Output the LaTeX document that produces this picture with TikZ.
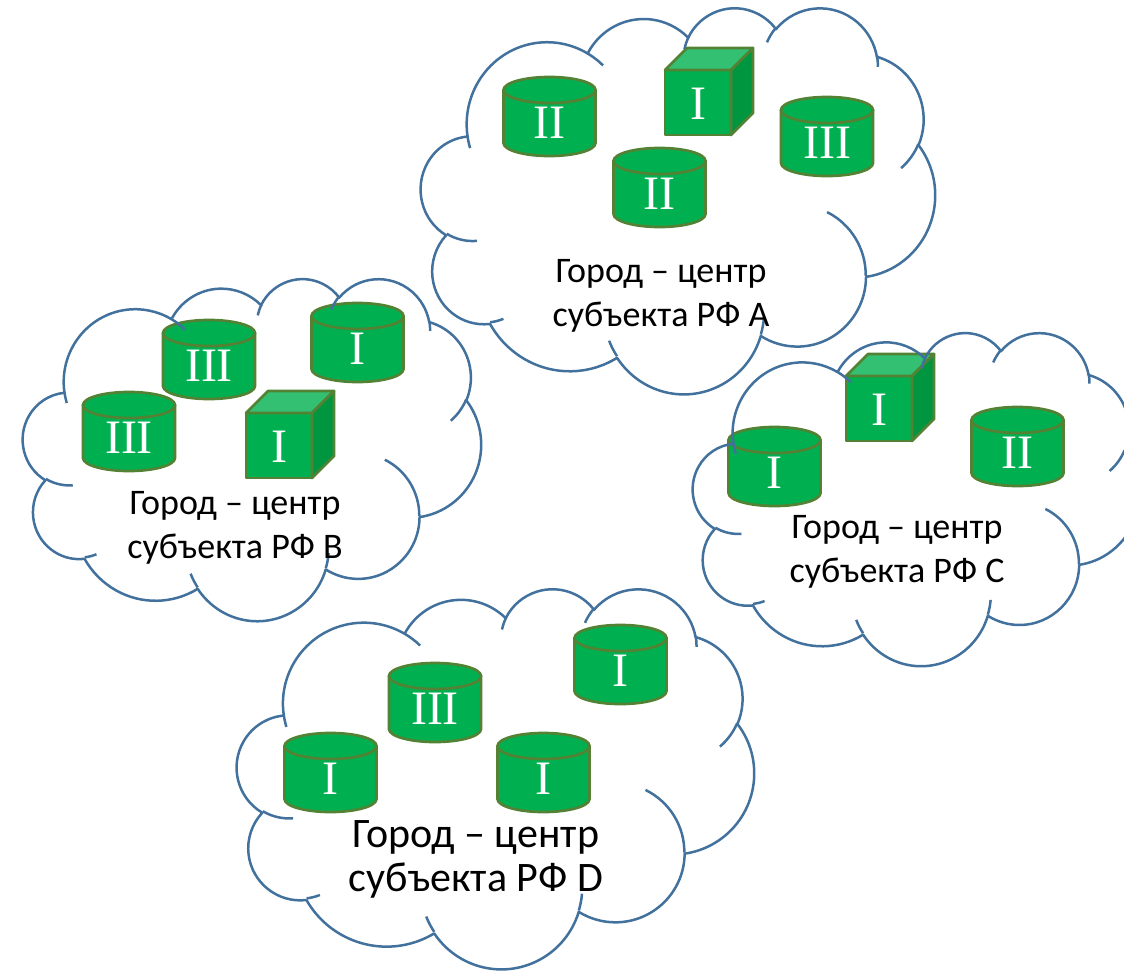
\documentclass[tikz,border=0pt]{standalone}
\usepackage{fontspec}
\setmainfont{Carlito}
\newfontfamily\numfont{Liberation Serif}
\usetikzlibrary{positioning}
\definecolor{cloudblue}{RGB}{65,113,156}
\definecolor{cangreen}{RGB}{0,176,80}
\definecolor{canedge}{RGB}{84,130,53}
\definecolor{cubetop}{RGB}{51,192,115}
\definecolor{cubeside}{RGB}{0,150,64}
\tikzset{cloudline/.style = {draw=cloudblue, line width=1.25pt, line join=round}}
\tikzset{canface/.style = {fill=cangreen, draw=canedge, line width=1.35pt, line join=round}}
\tikzset{numeral/.style = {font=\numfont\fontsize{24}{24}\selectfont, text=white, inner sep=0}}
\tikzset{city/.style = {font=\fontsize{18}{21.7}\selectfont, align=center, anchor=base}}
\tikzset{bigcity/.style = {city, font=\fontsize{21}{22}\selectfont}}

% cloud outline in a 43.2 x 43.2 box, y pointing down
\def\cloudpath{(3.900,14.370)}
\foreach \rw/\rh/\sa/\da in {6.753/9.190/-190.4875/123.7805, 5.333/7.267/-144.1024/89.9452,
    4.365/5.945/-145.8079/99.7230, 4.857/6.595/-130.9861/117.2417, 5.333/7.273/-78.7089/109.0269,
    6.775/9.220/-46.2673/130.2690, 5.785/7.867/0.6250/114.0333, 6.752/9.215/22.4516/115.1726,
    7.720/10.543/66.2426/75.7110, 4.360/5.918/-274.9421/146.7356, 4.345/5.945/-246.8285/152.5189}{%
  \pgfmathsetmacro\angA{atan2(\rw*sin(\sa),\rh*cos(\sa))}%
  \pgfmathsetmacro\angB{atan2(\rw*sin(\sa+\da),\rh*cos(\sa+\da))}%
  \pgfmathsetmacro\angD{\angB-\angA-360*round((\angB-\angA-\da)/360)}%
  \xdef\cloudpath{\cloudpath arc[start angle=\angA, delta angle=\angD, x radius=\rw, y radius=\rh]}}
\def\cloudstubs{}
\foreach \px/\py/\rw/\rh/\sa/\da in {4.693/26.177/4.345/5.945/86.7420/26.4295,
    6.928/34.899/4.360/5.918/73.6105/11.4475, 16.478/39.090/6.752/9.215/137.6242/14.0811,
    28.827/34.751/6.752/9.215/6.4533/15.9984, 34.129/22.954/5.785/7.867/-70.2924/70.9174,
    41.798/15.354/5.333/7.273/30.3180/27.7515, 38.324/5.426/4.857/6.595/-13.7443/14.8589,
    29.078/3.952/4.857/6.595/-149.1815/18.1954, 22.141/4.720/4.365/5.945/-163.4943/17.6864,
    14.000/5.192/6.753/9.190/-66.7070/12.3194, 4.127/15.789/6.753/9.190/157.6544/11.8582}{%
  \pgfmathsetmacro\angA{atan2(\rw*sin(\sa),\rh*cos(\sa))}%
  \pgfmathsetmacro\angB{atan2(\rw*sin(\sa+\da),\rh*cos(\sa+\da))}%
  \pgfmathsetmacro\angD{\angB-\angA-360*round((\angB-\angA-\da)/360)}%
  \xdef\cloudstubs{\cloudstubs (\px,\py) arc[start angle=\angA, delta angle=\angD, x radius=\rw, y radius=\rh]}}

\newcommand\cloudshape[4]{% left, top, width, height
  \begin{scope}[shift={(#1,#2)}, xscale=#3/43.2, yscale=#4/43.2]
    \draw [cloudline] \cloudpath -- cycle;
    \draw [cloudline] \cloudstubs;
  \end{scope}}
\newcommand\storecan[4]{% name, centre x, top y, numeral
  \filldraw [canface] (#2-46,#3+13) -- ++(0,53)
    arc [start angle=180, end angle=0, x radius=46, y radius=13] -- ++(0,-53) -- cycle;
  \filldraw [canface] (#2,#3+13) ellipse [x radius=46, y radius=13];
  \node [numeral] (#1) at (#2,#3+46) {#4};}
\newcommand\storecube[4]{% name, front left x, front top y, numeral
  \filldraw [canface] (#2,#3) rectangle ++(66,65);
  \filldraw [canface, fill=cubetop] (#2,#3) -- ++(22,-22) -- ++(66,0) -- ++(-22,22) -- cycle;
  \filldraw [canface, fill=cubeside] (#2+66,#3) -- ++(22,-22) -- ++(0,65) -- ++(-22,22) -- cycle;
  \node [numeral] (#1) at (#2+33,#3+34) {#4};}

\begin{document}
\begin{tikzpicture}[x=0.5pt, y=-0.5pt]
    \useasboundingbox (0,0) rectangle (1124,970);
    \clip (0,0) rectangle (1124,970);

    \storecan{A1}{549.5}{77}{II}
    \storecube{A2}{665}{70}{I}
    \storecan{A3}{659.5}{148}{II}
    \storecan{A4}{827}{97}{III}

    \storecan{B1}{209}{320}{III}
    \storecan{B2}{357.5}{303}{I}
    \storecan{B3}{129}{392}{III}
    \storecube{B4}{246}{413}{I}

    \storecube{C1}{846}{376}{I}
    \storecan{C2}{774.5}{427}{I}
    \storecan{C3}{1017.5}{407}{II}

    \storecan{D1}{620.5}{625}{I}
    \storecan{D2}{435}{663}{III}
    \storecan{D3}{330.5}{733}{I}
    \storecan{D4}{543.5}{733}{I}

    \cloudshape{421}{7}{514}{386}
    \cloudshape{23}{278}{458}{342}
    \cloudshape{693}{332}{446}{333}
    \cloudshape{237}{588}{517}{380}

    \node [city] (cityA) at (661, 326) {Город – центр\\субъекта РФ A};
    \node [city] (cityB) at (235, 558) {Город – центр\\субъекта РФ B};
    \node [city] (cityC) at (897, 582) {Город – центр\\субъекта РФ C};
    \node [bigcity] (cityD) at (476, 891) {Город – центр\\субъекта РФ D};
\end{tikzpicture}
\end{document}
